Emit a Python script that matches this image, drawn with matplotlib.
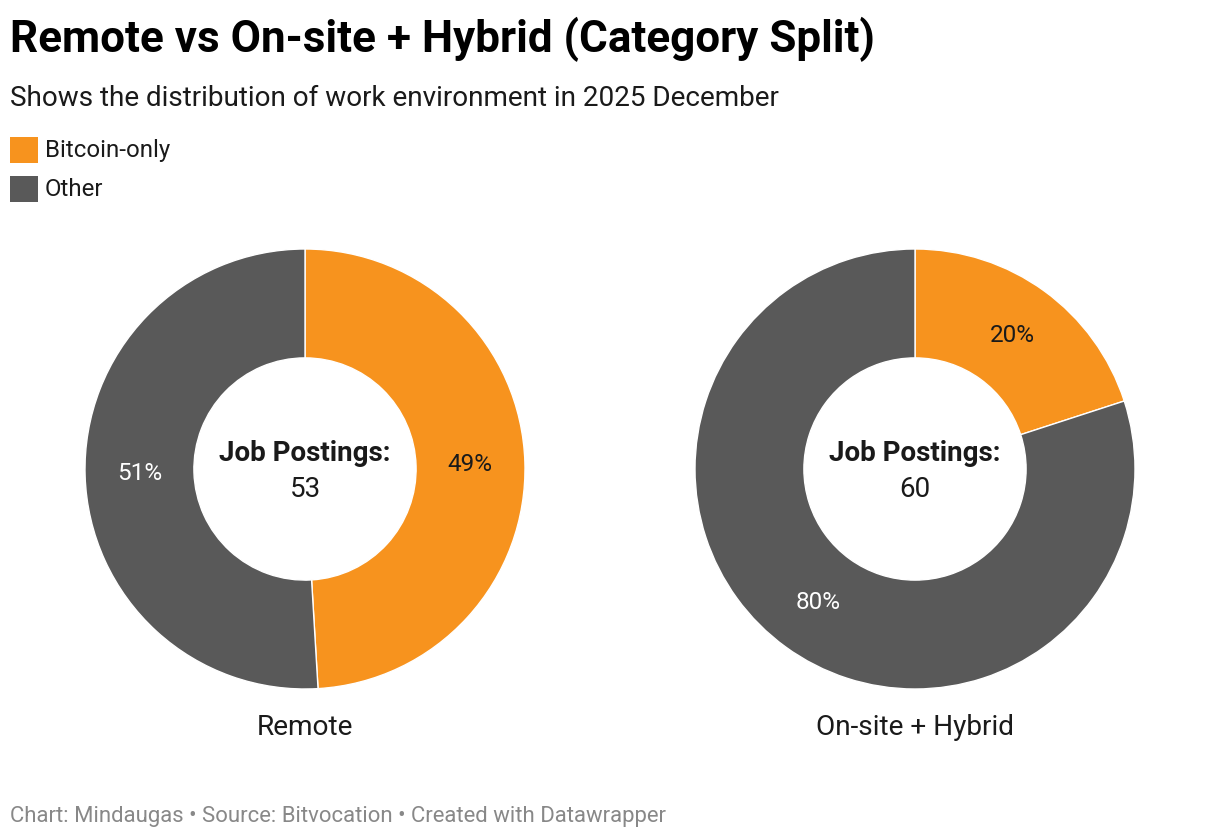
import matplotlib
matplotlib.use("Agg")
import matplotlib.pyplot as plt

plt.rcParams['font.family'] = ['Roboto', 'DejaVu Sans']

title = "Remote vs On-site + Hybrid (Category Split)"
subtitle = "Shows the distribution of work environment in 2025 December"
footer = "Chart: Mindaugas \u2022 Source: Bitvocation \u2022 Created with Datawrapper"
categories = ["Bitcoin-only", "Other"]
groups = ["Remote", "On-site + Hybrid"]
remote_values = [26, 27]
onsite_values = [12, 48]
colors = ["#f7931e", "#595959"]
label_colors = ["#1a1a1a", "#ffffff"]

W, H = 1220, 838
fig = plt.figure(figsize=(W / 100, H / 100), dpi=100)
fig.patch.set_facecolor("white")

def fx(x):
    return x / W

def fy(y):
    return 1 - y / H

fig.text(fx(10), fy(52), title, fontsize=31.7, fontweight='bold', color='#000000', va='baseline', ha='left')
fig.text(fx(10), fy(106), subtitle, fontsize=20.1, color='#1a1a1a', va='baseline', ha='left')

# legend
leg_y = [150, 189]
for cat, col, yc in zip(categories, colors, leg_y):
    ax_sq = fig.add_axes([fx(10), fy(yc + 13), 28 / W, 26 / H])
    ax_sq.set_facecolor(col)
    ax_sq.set_xticks([]); ax_sq.set_yticks([])
    for s in ax_sq.spines.values():
        s.set_visible(False)
    fig.text(fx(45), fy(yc), cat, fontsize=17.3, color='#1a1a1a', va='center', ha='left')

centers = [305, 915]
cy = 469
R = 220
for values, name, cx in zip([remote_values, onsite_values], groups, centers):
    ax = fig.add_axes([fx(cx - R), fy(cy + R), 2 * R / W, 2 * R / H])
    wedges, _, autotexts = ax.pie(values, colors=colors, startangle=90, counterclock=False,
                                  radius=1, wedgeprops=dict(width=0.495, edgecolor='white', linewidth=1),
                                  autopct='%.0f%%', pctdistance=0.75,
                                  textprops=dict(fontsize=17.5, family=['Roboto']))
    for t, c in zip(autotexts, label_colors):
        t.set_color(c)
    ax.set_xlim(-1, 1); ax.set_ylim(-1, 1)
    ax.set_aspect('equal')
    ax.axis('off')
    fig.text(fx(cx), fy(461), "Job Postings:", fontsize=20, fontweight='bold', color='#1a1a1a', ha='center', va='baseline')
    fig.text(fx(cx), fy(497), str(sum(values)), fontsize=20, color='#1a1a1a', ha='center', va='baseline')
    fig.text(fx(cx), fy(735), name, fontsize=20.2, color='#1a1a1a', ha='center', va='baseline')

fig.text(fx(10), fy(822), footer, fontsize=15.9, color='#888888', ha='left', va='baseline')

fig.savefig("out.png", dpi=100, facecolor='white')
